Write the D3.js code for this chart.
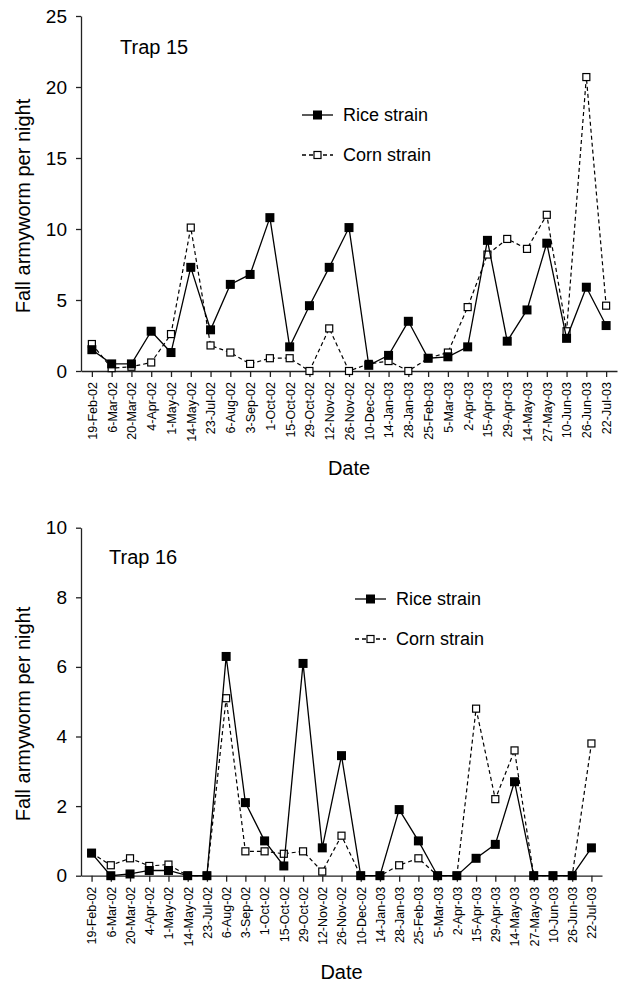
<!DOCTYPE html>
<html>
<head>
<meta charset="utf-8">
<script src="https://cdn.jsdelivr.net/npm/d3@7"></script>
<style>
  body { margin: 0; background: #fff; }
  svg { display: block; font-family: "Liberation Sans", Arial, Helvetica, sans-serif; }
</style>
</head>
<body>
<svg id="drawing_region"></svg>
<script>
const dates = ['19-Feb-02', '6-Mar-02', '20-Mar-02', '4-Apr-02', '1-May-02', '14-May-02', '23-Jul-02',
    '6-Aug-02', '3-Sep-02', '1-Oct-02', '15-Oct-02', '29-Oct-02', '12-Nov-02', '26-Nov-02', '10-Dec-02',
    '14-Jan-03', '28-Jan-03', '25-Feb-03', '5-Mar-03', '2-Apr-03', '15-Apr-03', '29-Apr-03', '14-May-03',
    '27-May-03', '10-Jun-03', '26-Jun-03', '22-Jul-03'];

const trap15Rice = [1.5, 0.5, 0.5, 2.8, 1.3, 7.3, 2.9, 6.1, 6.8, 10.8, 1.7, 4.6, 7.3, 10.1, 0.4,
    1.1, 3.5, 0.9, 1.0, 1.7, 9.2, 2.1, 4.3, 9.0, 2.3, 5.9, 3.2];
const trap15Corn = [1.9, 0.2, 0.3, 0.6, 2.6, 10.1, 1.8, 1.3, 0.5, 0.9, 0.9, 0.0, 3.0, 0.0, 0.5,
    0.7, 0.0, 0.9, 1.3, 4.5, 8.2, 9.3, 8.6, 11.0, 2.8, 20.7, 4.6];
const trap15Ticks = [0, 5, 10, 15, 20, 25];

const trap16Rice = [0.65, 0, 0.05, 0.15, 0.15, 0, 0, 6.3, 2.1, 1.0, 0.28, 6.1, 0.8, 3.45, 0,
    0, 1.9, 1.0, 0, 0, 0.5, 0.9, 2.7, 0, 0, 0, 0.8];
const trap16Corn = [0.65, 0.3, 0.5, 0.28, 0.32, 0, 0, 5.1, 0.7, 0.7, 0.63, 0.7, 0.12, 1.15, 0,
    0, 0.3, 0.5, 0, 0, 4.8, 2.2, 3.6, 0, 0, 0, 3.8];
const trap16Ticks = [0, 2, 4, 6, 8, 10];

const seriesNames = ['Rice strain', 'Corn strain'];

class TrapChart {

    constructor(config, rice, corn) {
        this.config = config;
        this.rice = rice;
        this.corn = corn;
        this.init();
    }

    init() {
        let self = this;
        let c = self.config;

        self.chart = d3.select(c.parent).append('g');

        self.xScale = d3.scalePoint()
            .domain(dates)
            .range([c.left, c.right])
            .padding(0.55);
        self.yScale = d3.scaleLinear()
            .domain([0, d3.max(c.ticks)])
            .range([c.bottom, c.top]);
    }

    update() {
        let self = this;
        let c = self.config;
        let x = self.xScale, y = self.yScale;

        // axes
        const yAxis = self.chart.append('g')
            .attr('transform', `translate(${c.left}, 0)`)
            .call(d3.axisLeft(y).tickValues(c.ticks).tickSize(5).tickSizeOuter(0).tickPadding(9));
        yAxis.selectAll('text').style('font-size', '19px').attr('fill', '#000');

        const xAxis = self.chart.append('g')
            .attr('transform', `translate(0, ${c.bottom})`)
            .call(d3.axisBottom(x).tickSize(6).tickSizeOuter(0));
        xAxis.selectAll('text')
            .attr('y', 0)
            .attr('x', -11)
            .attr('dy', '0.35em')
            .attr('transform', 'rotate(-90)')
            .style('text-anchor', 'end')
            .style('font-size', '12.5px')
            .attr('fill', '#000');

        self.chart.selectAll('.domain, .tick line')
            .attr('stroke', '#222')
            .attr('stroke-width', 1.3);

        // lines
        const line = d3.line()
            .x((d, i) => x(dates[i]))
            .y(d => y(d));

        self.chart.append('path')
            .datum(self.corn)
            .attr('d', line)
            .attr('fill', 'none')
            .attr('stroke', '#000')
            .attr('stroke-width', 1.2)
            .attr('stroke-dasharray', '4,3');

        self.chart.selectAll('.corn')
            .data(self.corn)
            .enter()
            .append('rect')
            .attr('class', 'corn')
            .attr('x', (d, i) => x(dates[i]) - 3.5)
            .attr('y', d => y(d) - 3.5)
            .attr('width', 7)
            .attr('height', 7)
            .attr('fill', '#fff')
            .attr('stroke', '#000')
            .attr('stroke-width', 1.2);

        self.chart.append('path')
            .datum(self.rice)
            .attr('d', line)
            .attr('fill', 'none')
            .attr('stroke', '#000')
            .attr('stroke-width', 1.3);

        self.chart.selectAll('.rice')
            .data(self.rice)
            .enter()
            .append('rect')
            .attr('class', 'rice')
            .attr('x', (d, i) => x(dates[i]) - 4.5)
            .attr('y', d => y(d) - 4.5)
            .attr('width', 9)
            .attr('height', 9)
            .attr('fill', '#000');

        // legend
        const legend = self.chart.selectAll('.legend')
            .data(seriesNames)
            .enter()
            .append('g')
            .attr('transform', (d, i) => `translate(${c.legendX}, ${c.legendY + i * 40})`);

        legend.append('line')
            .attr('x1', 0).attr('x2', 31)
            .attr('stroke', '#000')
            .attr('stroke-width', 1.3)
            .attr('stroke-dasharray', (d, i) => i === 0 ? null : '4,3');

        legend.append('rect')
            .attr('x', (d, i) => i === 0 ? 11 : 12)
            .attr('y', (d, i) => i === 0 ? -4.5 : -3.5)
            .attr('width', (d, i) => i === 0 ? 9 : 7)
            .attr('height', (d, i) => i === 0 ? 9 : 7)
            .attr('fill', (d, i) => i === 0 ? '#000' : '#fff')
            .attr('stroke', '#000')
            .attr('stroke-width', (d, i) => i === 0 ? 0 : 1.2);

        legend.append('text')
            .attr('x', 41)
            .attr('dy', '0.35em')
            .style('font-size', '18px')
            .text(d => d);

        // titles
        self.chart.append('text')
            .attr('x', c.titleX)
            .attr('y', c.titleY)
            .style('font-size', '20px')
            .text(c.title);

        self.chart.append('text')
            .attr('transform', `translate(30, ${c.yTitleY}) rotate(-90)`)
            .style('text-anchor', 'middle')
            .style('font-size', '20px')
            .text('Fall armyworm per night');

        self.chart.append('text')
            .attr('x', (c.left + c.right) / 2)
            .attr('y', c.xTitleY)
            .style('text-anchor', 'middle')
            .style('font-size', '20px')
            .text('Date');
    }

}

d3.select('#drawing_region')
    .attr('width', 619)
    .attr('height', 988);

const topChart = new TrapChart({
    parent: '#drawing_region',
    left: 81, right: 617, top: 16, bottom: 371,
    ticks: trap15Ticks,
    title: 'Trap 15', titleX: 120, titleY: 54,
    legendX: 302, legendY: 115,
    yTitleY: 206, xTitleY: 475
}, trap15Rice, trap15Corn);
topChart.update();

const bottomChart = new TrapChart({
    parent: '#drawing_region',
    left: 81, right: 602, top: 527.7, bottom: 875.7,
    ticks: trap16Ticks,
    title: 'Trap 16', titleX: 109, titleY: 564,
    legendX: 355, legendY: 599,
    yTitleY: 714, xTitleY: 979
}, trap16Rice, trap16Corn);
bottomChart.update();
</script>
</body>
</html>
